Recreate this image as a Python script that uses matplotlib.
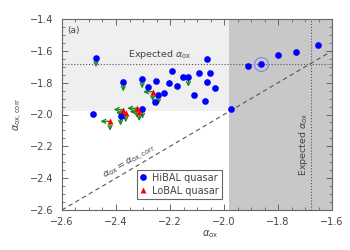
import matplotlib
matplotlib.use("Agg")
import matplotlib.pyplot as plt
from matplotlib.ticker import MultipleLocator
from matplotlib.patches import Rectangle

# HiBAL quasars: alpha_ox, alpha_ox,corr, upper-limit flag
hi_x = [-2.474, -2.373, -2.484, -2.383, -2.303, -2.283, -2.253, -2.193, -2.203, -2.173,
        -2.153, -2.132, -2.094, -2.052, -2.062, -2.062, -2.033, -2.113, -2.071, -2.243,
        -2.222, -2.256, -2.302, -1.975, -1.912, -1.862, -1.801, -1.732, -1.652]
hi_y = [-1.643, -1.796, -1.999, -2.010, -1.777, -1.828, -1.787, -1.727, -1.800, -1.819,
        -1.766, -1.766, -1.738, -1.738, -1.654, -1.798, -1.836, -1.878, -1.914, -1.878,
        -1.868, -1.919, -1.967, -1.965, -1.694, -1.684, -1.624, -1.605, -1.563]
hi_lim = [1, 1, 0, 1, 1, 0, 0, 0, 0, 0,
          0, 1, 0, 0, 0, 0, 0, 0, 0, 1,
          0, 0, 1, 0, 0, 0, 0, 0, 0]

# LoBAL quasars (upper limits in both axes)
lo_x = [-2.264, -2.373, -2.364, -2.422, -2.323, -2.314]
lo_y = [-1.857, -1.969, -1.990, -2.043, -1.961, -1.982]

special = (-1.862, -1.684)
expected = -1.68
cut = -1.98

gray = '#444444'
fig = plt.figure(figsize=(3.5, 2.5), dpi=100)
ax = fig.add_axes([0.177, 0.16, 0.772, 0.764])
ax.set_xlim(-2.6, -1.6)
ax.set_ylim(-2.6, -1.4)

# shaded regions
ax.add_patch(Rectangle((-2.6, cut), cut + 2.6, -1.4 - cut, facecolor='#efefef', edgecolor='none', zorder=0))
ax.add_patch(Rectangle((cut, -2.6), -1.6 - cut, 1.2, facecolor='#c8c8c8', edgecolor='none', zorder=0))

ax.plot([-2.6, -1.6], [-2.6, -1.6], ls=(0, (4, 3)), color='#555555', lw=0.8, zorder=1)
ax.axhline(expected, ls=':', color='#555555', lw=0.8, zorder=1)
ax.axvline(expected, ls=':', color='#555555', lw=0.8, zorder=1)

arr = dict(arrowstyle='->', color='#1e8c1e', lw=1.0, shrinkA=0, shrinkB=0, mutation_scale=7)
dy, dx = 0.06, 0.036
for x, y, l in zip(hi_x, hi_y, hi_lim):
    if l:
        ax.annotate('', xy=(x, y - dy), xytext=(x, y), arrowprops=arr, zorder=2)
for x, y in zip(lo_x, lo_y):
    ax.annotate('', xy=(x, y - dy), xytext=(x, y), arrowprops=arr, zorder=2)
    ax.annotate('', xy=(x - dx, y), xytext=(x, y), arrowprops=arr, zorder=2)

ax.plot(hi_x, hi_y, 'o', color='#0000ff', ms=4.8, mec='none', zorder=3, label='HiBAL quasar')
ax.plot(lo_x, lo_y, '^', color='#ff0000', ms=5, mec='none', zorder=3, label='LoBAL quasar')
ax.plot(*special, 'o', mfc='none', mec='#8080ff', ms=10, mew=0.8, zorder=3)

ax.text(-2.355, -1.637, r'Expected $\alpha_{\rm ox}$', fontsize=6.8, color=gray)
ax.text(-1.707, -2.19, r'Expected $\alpha_{\rm ox}$', fontsize=6.8, color=gray,
        rotation=90, ha='center', va='center')
ax.text(-2.35, -2.30, r'$\alpha_{\rm ox}=\alpha_{\rm ox,corr}$', fontsize=6.8, color=gray,
        rotation=30, ha='center', va='center', rotation_mode='anchor')
ax.text(0.02, 0.965, '(a)', transform=ax.transAxes, fontsize=6.5, color=gray, va='top')

leg = ax.legend(loc='lower left', bbox_to_anchor=(0.277, 0.06), fontsize=7, frameon=True,
                fancybox=False, framealpha=1, edgecolor='#666666', handlelength=0.6,
                handletextpad=0.7, borderpad=0.3, labelspacing=0.3, borderaxespad=0)
leg.get_frame().set_linewidth(0.8)
for t in leg.get_texts():
    t.set_color(gray)

ax.xaxis.set_major_locator(MultipleLocator(0.2))
ax.xaxis.set_minor_locator(MultipleLocator(0.05))
ax.yaxis.set_major_locator(MultipleLocator(0.2))
ax.yaxis.set_minor_locator(MultipleLocator(0.05))
ax.tick_params(which='both', direction='in', top=True, right=True, colors='#666666',
               labelcolor=gray, labelsize=7)
ax.tick_params(which='major', length=4, width=0.7)
ax.tick_params(which='minor', length=2, width=0.6)
ax.tick_params(axis='y', pad=6)
ax.tick_params(axis='x', pad=5)
for s in ax.spines.values():
    s.set_color('#666666')
    s.set_linewidth(0.8)

ax.set_xlabel(r'$\alpha_{\rm ox}$', fontsize=7, color=gray)
ax.set_ylabel(r'$\alpha_{\rm ox,corr}$', fontsize=7, color=gray)
ax.xaxis.set_label_coords(0.55, -0.095)
ax.yaxis.set_label_coords(-0.135, 0.5)

fig.savefig('out.png', dpi=100)
